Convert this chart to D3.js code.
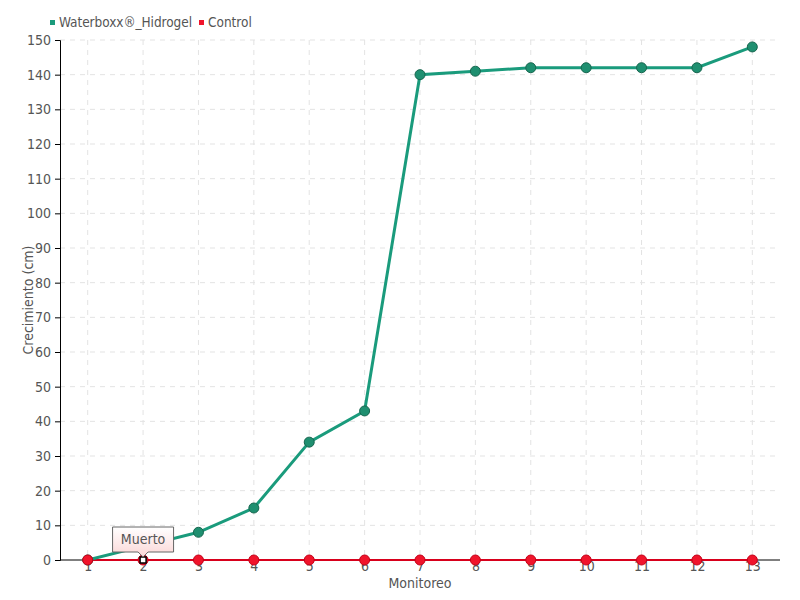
<!DOCTYPE html>
<html>
<head>
<meta charset="utf-8">
<script src="https://cdn.jsdelivr.net/npm/d3@7"></script>
<style>
  body { margin: 0; background: #fff; }
  svg text { font-family: "DejaVu Sans Condensed", "Liberation Sans Narrow", sans-serif; fill: #555; }
</style>
</head>
<body>
<div id="chart"></div>
<script>
// monitoreo labels
let monitoreo = ["1","2","3","4","5","6","7","8","9","10","11","12","13"];
// crecimiento (cm)
let waterboxx = [0, 4, 8, 15, 34, 43, 140, 141, 142, 142, 142, 142, 148];
let control = [0, 0, 0, 0, 0, 0, 0, 0, 0, 0, 0, 0, 0];
let yTicks = [0,10,20,30,40,50,60,70,80,90,100,110,120,130,140,150];
let seriesNames = ["Waterboxx®_Hidrogel", "Control"];

let width = 800, height = 600;
let margin = {top: 40, right: 20, bottom: 40, left: 60};

let svg = d3.select("#chart").append("svg")
    .attr("width", width)
    .attr("height", height);

let x = d3.scalePoint()
    .domain(monitoreo)
    .range([margin.left, width - margin.right])
    .padding(0.5);

let y = d3.scaleLinear()
    .domain([0, 150])
    .range([height - margin.bottom, margin.top]);

//grid
svg.append("g").selectAll("line.h")
    .data(yTicks.slice(1))
    .enter().append("line")
    .attr("x1", margin.left).attr("x2", width - margin.right)
    .attr("y1", d => y(d)).attr("y2", d => y(d))
    .attr("stroke", "#e3e3e3").attr("stroke-dasharray", "5,5");

svg.append("g").selectAll("line.v")
    .data(monitoreo)
    .enter().append("line")
    .attr("x1", d => x(d)).attr("x2", d => x(d))
    .attr("y1", margin.top).attr("y2", height - margin.bottom)
    .attr("stroke", "#e3e3e3").attr("stroke-dasharray", "5,5");

//axes
let yAxis = svg.append("g")
    .attr("transform", "translate(" + margin.left + ",0)")
    .call(d3.axisLeft(y).tickValues(yTicks).tickSize(5).tickPadding(4));
yAxis.selectAll("text").style("font-size", "14px");

let xAxis = svg.append("g")
    .attr("transform", "translate(0," + (height - margin.bottom) + ")")
    .call(d3.axisBottom(x).tickSize(0).tickPadding(1).tickSizeOuter(0));
xAxis.selectAll("text").style("font-size", "14px");
xAxis.select(".domain").attr("d", "M" + margin.left + ",0H" + (width - margin.right));

svg.selectAll(".domain").attr("stroke", "#000");
svg.selectAll(".tick line").attr("stroke", "#000");

svg.append("text")
    .attr("transform", "translate(33," + ((margin.top + height - margin.bottom) / 2) + ") rotate(-90)")
    .attr("text-anchor", "middle")
    .style("font-size", "14px")
    .text("Crecimiento (cm)");

svg.append("text")
    .attr("x", (margin.left + width - margin.right) / 2)
    .attr("y", 588)
    .attr("text-anchor", "middle")
    .style("font-size", "14px")
    .text("Monitoreo");

//lines
let line = d3.line()
    .x((d, i) => x(monitoreo[i]))
    .y(d => y(d));

svg.append("path")
    .datum(control)
    .attr("d", line)
    .attr("fill", "none")
    .attr("stroke", "#d8001c")
    .attr("stroke-width", 2);

svg.append("path")
    .datum(waterboxx)
    .attr("d", line)
    .attr("fill", "none")
    .attr("stroke", "#1a9b7c")
    .attr("stroke-width", 3);

svg.append("g").selectAll("circle")
    .data(waterboxx)
    .enter().append("circle")
    .attr("cx", (d, i) => x(monitoreo[i]))
    .attr("cy", d => y(d))
    .attr("r", 5)
    .attr("fill", "#1f8f70")
    .attr("stroke", "#17664f")
    .attr("stroke-width", 1);

svg.append("g").selectAll("circle")
    .data(control)
    .enter().append("circle")
    .attr("cx", (d, i) => x(monitoreo[i]))
    .attr("cy", d => y(d))
    .attr("r", 5)
    .attr("fill", "#f0142b")
    .attr("stroke", "#c40018")
    .attr("stroke-width", 1);

// highlighted point (dead)
let deadIdx = 1;
svg.append("rect")
    .attr("x", x(monitoreo[deadIdx]) - 3)
    .attr("y", y(control[deadIdx]) - 3)
    .attr("width", 6).attr("height", 6)
    .attr("fill", "#fff").attr("stroke", "#000").attr("stroke-width", 1.5);

//tooltip
let tipX = x(monitoreo[deadIdx]), tipY = y(control[deadIdx]) - 8;
let grad = svg.append("defs").append("linearGradient")
    .attr("id", "tipgrad").attr("x1", 0).attr("x2", 0).attr("y1", 0).attr("y2", 1);
grad.append("stop").attr("offset", "0%").attr("stop-color", "#ffffff");
grad.append("stop").attr("offset", "100%").attr("stop-color", "#fbd6d6");
let tw = 61, th = 25;
svg.append("path")
    .attr("d", "M" + (tipX - 30.5) + "," + (tipY - th) + "h" + tw + "v" + th
        + "h-" + (tw / 2 - 5) + "l-5,5l-5,-5h-" + (tw / 2 - 5) + "z")
    .attr("fill", "url(#tipgrad)")
    .attr("stroke", "#666")
    .attr("stroke-width", 1);
svg.append("text")
    .attr("x", tipX)
    .attr("y", tipY - 8)
    .attr("text-anchor", "middle")
    .style("font-size", "14px")
    .text("Muerto");

//legend
let legendColors = ["#1a9b7c", "#f0142b"];
let lx = [50, 199];
let legend = svg.append("g").selectAll("g")
    .data(seriesNames)
    .enter().append("g")
    .attr("transform", (d, i) => "translate(" + lx[i] + ",0)");
legend.append("rect")
    .attr("x", 0).attr("y", 20)
    .attr("width", 5).attr("height", 5)
    .attr("fill", (d, i) => legendColors[i]);
legend.append("text")
    .attr("x", 9).attr("y", 27)
    .style("font-size", "13.5px")
    .attr("textLength", (d, i) => i === 0 ? 133 : null)
    .text(d => d);
</script>
</body>
</html>
